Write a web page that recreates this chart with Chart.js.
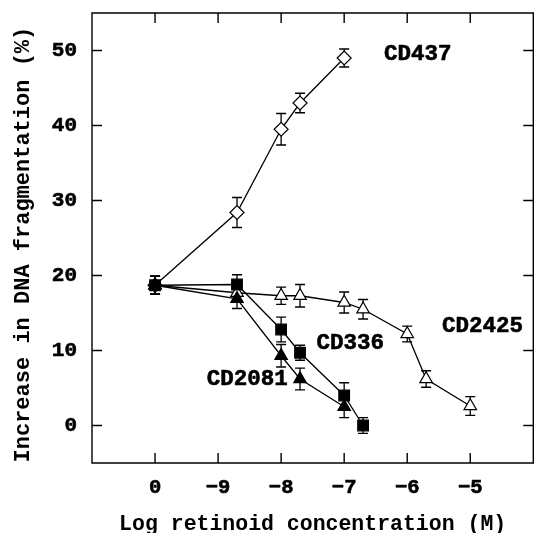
<!DOCTYPE html>
<html>
<head>
<meta charset="utf-8">
<script src="https://cdn.jsdelivr.net/npm/chart.js@4/dist/chart.umd.min.js"></script>
<style>
  html, body { margin: 0; padding: 0; background: #fff; overflow: hidden; }
  #wrap { width: 542px; height: 533px; }
</style>
</head>
<body>
<div id="wrap"><canvas id="c" width="542" height="533"></canvas></div>
<script>
// x axis positions: control = 0, then log10 concentration + 10 (−9 → 1, −8 → 2, ...)
const tickPositions = [0, 1, 2, 3, 4, 5];
const tickLabels = ['0', '\u22129', '\u22128', '\u22127', '\u22126', '\u22125'];
const yTicks = [0, 10, 20, 30, 40, 50];

const cd437X   = [0, 1.3, 2, 2.3, 3];
const cd437Y   = [18.7, 28.4, 39.5, 43.0, 49.0];
const cd437Err = [1.2, 2.0, 2.1, 1.3, 1.2];

const cd2425X   = [0, 1.3, 2, 2.3, 3, 3.3, 4, 4.3, 5];
const cd2425Y   = [18.7, 17.7, 17.3, 17.3, 16.4, 15.5, 12.2, 6.2, 2.6];
const cd2425Err = [1.2, 1.2, 1.15, 1.5, 1.4, 1.3, 1.05, 1.1, 1.25];

const cd336X   = [0, 1.3, 2, 2.3, 3, 3.3];
const cd336Y   = [18.7, 18.8, 12.8, 9.7, 4.0, 0.0];
const cd336Err = [1.2, 1.3, 1.65, 1.0, 1.7, 1.05];

const cd2081X   = [0, 1.3, 2, 2.3, 3];
const cd2081Y   = [18.7, 16.9, 9.3, 6.2, 2.5];
const cd2081Err = [1.2, 1.3, 1.5, 1.45, 1.45];

const seriesNames = ['CD336', 'CD2081', 'CD2425', 'CD437'];
// label anchors (left edge, vertical centre) in axis units
const labelX = [2.56, 0.82, 4.55, 3.63];
const labelY = [10.9, 6.2, 13.25, 49.5];

const FONT = "'Liberation Mono', 'Courier New', monospace";

function pts(xs, ys) { return xs.map((x, i) => ({ x: x, y: ys[i] })); }

const errors = [cd336Err, cd2081Err, cd2425Err, cd437Err];

const frameTicks = {
  id: 'frameTicks',
  afterDraw(chart) {
    const { ctx, chartArea: a, scales } = chart;
    ctx.save();
    ctx.strokeStyle = '#000';
    ctx.lineWidth = 1.4;
    ctx.beginPath();
    ctx.rect(a.left, a.top, a.right - a.left, a.bottom - a.top);
    ctx.stroke();
    ctx.beginPath();
    const L = 10;
    tickPositions.forEach(v => {
      const px = scales.x.getPixelForValue(v);
      ctx.moveTo(px, a.bottom); ctx.lineTo(px, a.bottom - L);
      ctx.moveTo(px, a.top); ctx.lineTo(px, a.top + L);
    });
    yTicks.forEach(v => {
      const py = scales.y.getPixelForValue(v);
      ctx.moveTo(a.left, py); ctx.lineTo(a.left + L, py);
      ctx.moveTo(a.right, py); ctx.lineTo(a.right - L, py);
    });
    ctx.stroke();
    // series labels
    ctx.fillStyle = '#000';
    ctx.lineWidth = 0.6;
    ctx.font = "bold 22.5px " + FONT;
    ctx.textAlign = 'left';
    ctx.textBaseline = 'middle';
    seriesNames.forEach((n, i) => {
      const x = scales.x.getPixelForValue(labelX[i]);
      const y = scales.y.getPixelForValue(labelY[i]);
      ctx.fillText(n, x, y);
      ctx.strokeText(n, x, y);
    });
    ctx.restore();
  }
};

const errorBars = {
  id: 'errorBars',
  beforeDatasetsDraw(chart) {
    const { ctx, scales } = chart;
    ctx.save();
    ctx.strokeStyle = '#000';
    ctx.lineWidth = 1.3;
    for (let d = chart.data.datasets.length - 1; d >= 0; d--) {
      const ds = chart.data.datasets[d];
      ds.data.forEach((p, i) => {
        const e = errors[d][i];
        const px = scales.x.getPixelForValue(p.x);
        const y1 = scales.y.getPixelForValue(p.y + e);
        const y2 = scales.y.getPixelForValue(p.y - e);
        ctx.beginPath();
        ctx.moveTo(px, y1); ctx.lineTo(px, y2);
        ctx.moveTo(px - 5, y1); ctx.lineTo(px + 5, y1);
        ctx.moveTo(px - 5, y2); ctx.lineTo(px + 5, y2);
        ctx.stroke();
      });
    }
    ctx.restore();
  }
};

const common = { borderColor: '#000', borderWidth: 1.3, tension: 0, fill: false, pointBorderColor: '#000', pointBorderWidth: 1.2 };

new Chart(document.getElementById('c'), {
  type: 'line',
  data: {
    datasets: [
      Object.assign({ label: 'CD336', data: pts(cd336X, cd336Y), pointStyle: 'rect', pointRadius: 7.5, pointBackgroundColor: '#000' }, common),
      Object.assign({ label: 'CD2081', data: pts(cd2081X, cd2081Y), pointStyle: 'triangle', pointRadius: 7.2, pointBackgroundColor: '#000' }, common),
      Object.assign({ label: 'CD2425', data: pts(cd2425X, cd2425Y), pointStyle: 'triangle', pointRadius: 7.2, pointBackgroundColor: '#fff' }, common),
      Object.assign({ label: 'CD437', data: pts(cd437X, cd437Y), pointStyle: 'rectRot', pointRadius: 7, pointBackgroundColor: '#fff' }, common)
    ]
  },
  options: {
    responsive: false,
    animation: false,
    events: [],
    layout: { padding: { left: 0, top: 13, right: 2, bottom: 0 } },
    plugins: { legend: { display: false }, tooltip: { enabled: false } },
    scales: {
      x: {
        type: 'linear', min: -1, max: 6,
        afterBuildTicks: s => { s.ticks = tickPositions.map(v => ({ value: v })); },
        afterFit: s => { s.height = 70; s.paddingLeft = 0; s.paddingRight = 0; },
        grid: { display: false, drawTicks: false },
        border: { display: false },
        ticks: {
          autoSkip: false, maxRotation: 0, padding: 13, color: '#000',
          textStrokeColor: '#000', textStrokeWidth: 0.6,
          font: { family: FONT, size: 20.5, weight: 'bold' },
          callback: v => tickLabels[tickPositions.indexOf(v)] ?? ''
        },
        title: {
          display: true, text: 'Log retinoid concentration (M)', color: '#000',
          font: { family: FONT, size: 21.5, weight: 'bold', lineHeight: 1 },
          padding: { top: 0, bottom: -2 }
        }
      },
      y: {
        min: -5, max: 55,
        afterBuildTicks: s => { s.ticks = yTicks.map(v => ({ value: v })); },
        afterFit: s => { s.width = 92; s.paddingTop = 0; s.paddingBottom = 0; },
        grid: { display: false, drawTicks: false },
        border: { display: false },
        ticks: {
          padding: 15, color: '#000', textStrokeColor: '#000', textStrokeWidth: 0.6,
          font: { family: FONT, size: 21, weight: 'bold' }
        },
        title: {
          display: true, text: 'Increase in DNA fragmentation (%)\u00a0', color: '#000',
          font: { family: FONT, size: 22, weight: 'bold', lineHeight: 1 },
          padding: { top: 12, bottom: 0 }
        }
      }
    }
  },
  plugins: [errorBars, frameTicks]
});
</script>
</body>
</html>
